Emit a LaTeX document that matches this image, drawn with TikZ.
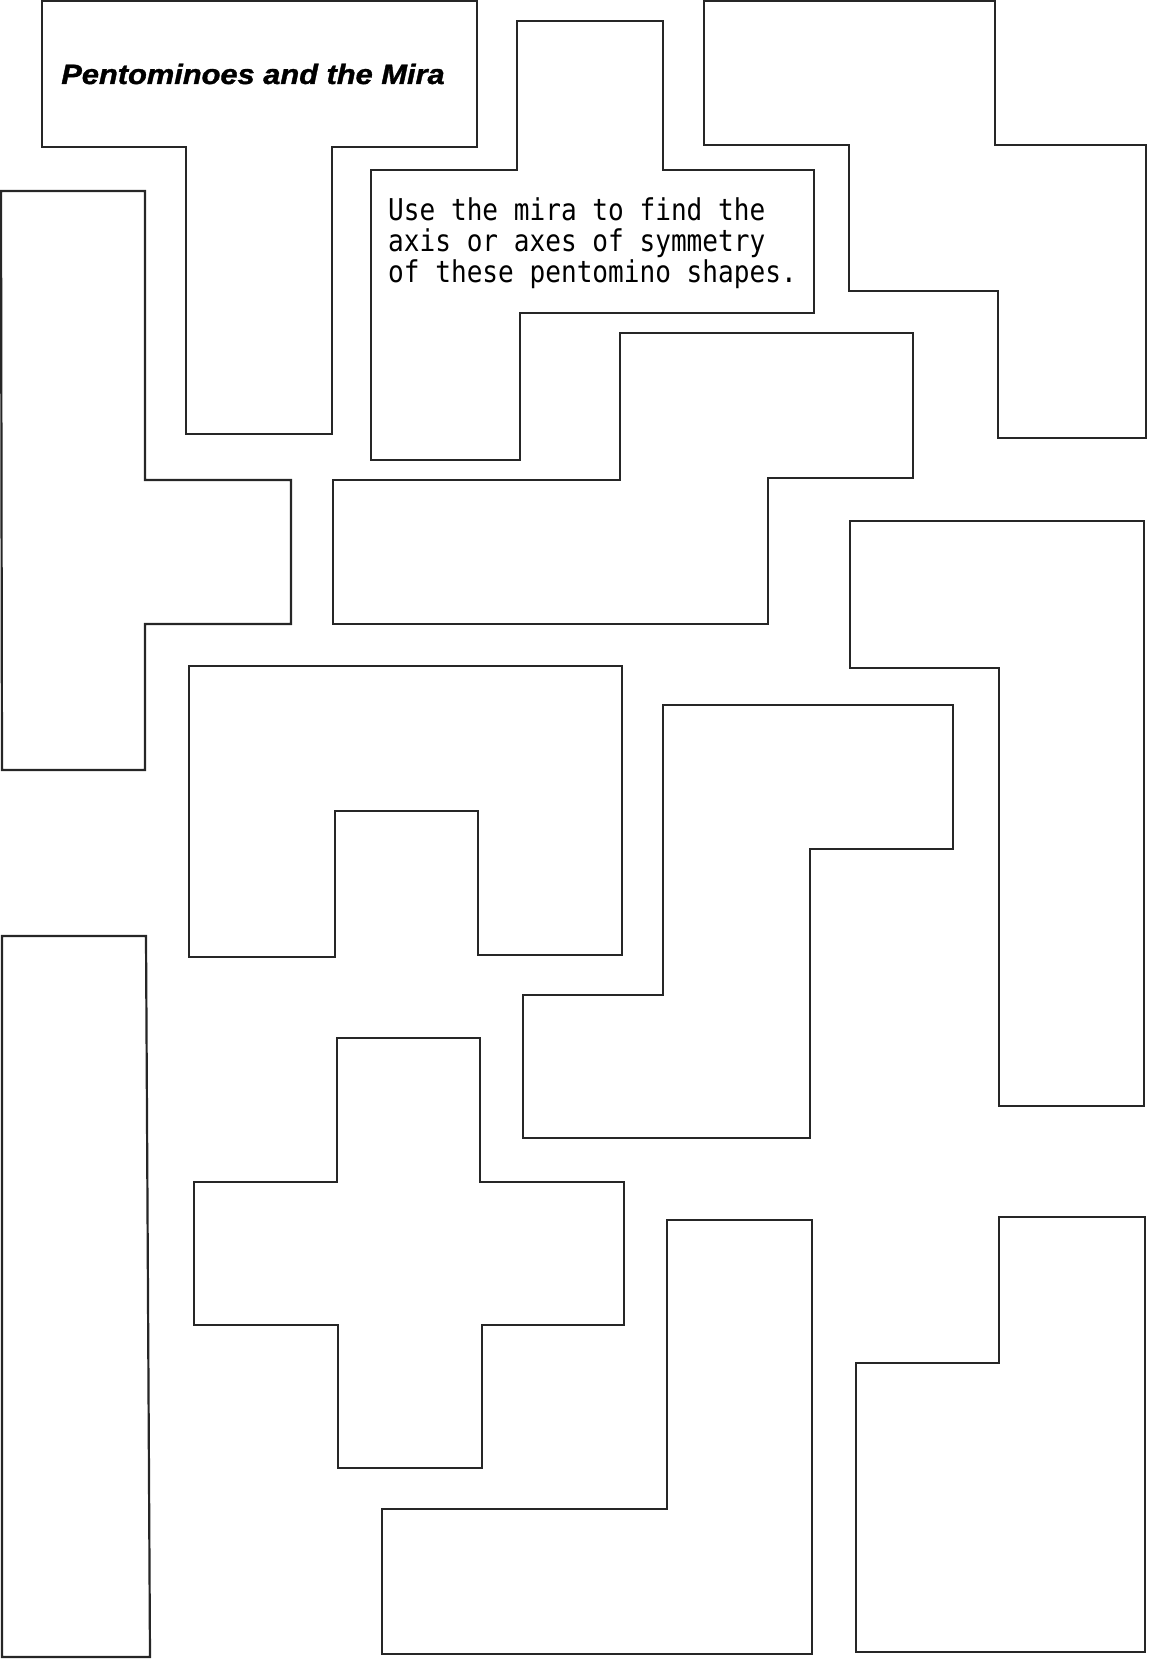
\documentclass[tikz,border=0pt]{standalone}
\usepackage{fontspec}
\usepackage{graphicx}
\newfontfamily\titlefont[FakeBold=1.2]{Liberation Sans}
\newfontfamily\monofont{DejaVu Sans Mono}
\begin{document}
\begin{tikzpicture}[x=1pt,y=-1pt,
  piece/.style={draw=black!85, line width=2.2pt, line join=miter},
  titletext/.style={inner sep=0pt, font=\titlefont\bfseries\itshape\fontsize{28}{30}\selectfont},
  monotext/.style={inner sep=0pt, anchor=base west, font=\monofont\fontsize{26.1}{30}\selectfont}]
\useasboundingbox (0,0) rectangle (1148,1661);
% T
\draw[piece] (42,1) -- (477,1) -- (477,147) -- (332,147) -- (332,434) -- (186,434) -- (186,147) -- (42,147) -- cycle;
% F
\draw[piece] (517,21) -- (663,21) -- (663,170) -- (814,170) -- (814,313) -- (520,313) -- (520,460) -- (371,460) -- (371,170) -- (517,170) -- cycle;
% W
\draw[piece] (704,1) -- (995,1) -- (995,145) -- (1146,145) -- (1146,438) -- (998,438) -- (998,291) -- (849,291) -- (849,145) -- (704,145) -- cycle;
% Y
\draw[piece] (1,191) -- (145,191) -- (145,480) -- (291,480) -- (291,624) -- (145,624) -- (145,770) -- (2,770) -- cycle;
% N
\draw[piece] (620,333) -- (913,333) -- (913,478) -- (768,478) -- (768,624) -- (333,624) -- (333,480) -- (620,480) -- cycle;
% L
\draw[piece] (850,521) -- (1144,521) -- (1144,1106) -- (999,1106) -- (999,668) -- (850,668) -- cycle;
% U
\draw[piece] (189,666) -- (622,666) -- (622,955) -- (478,955) -- (478,811) -- (335,811) -- (335,957) -- (189,957) -- cycle;
% Z
\draw[piece] (663,705) -- (953,705) -- (953,849) -- (810,849) -- (810,1138) -- (523,1138) -- (523,995) -- (663,995) -- cycle;
% I
\draw[piece] (2,936) -- (146,936) -- (150,1657) -- (2,1657) -- cycle;
% X
\draw[piece] (337,1038) -- (480,1038) -- (480,1182) -- (624,1182) -- (624,1325) -- (482,1325) -- (482,1468) -- (338,1468) -- (338,1325) -- (194,1325) -- (194,1182) -- (337,1182) -- cycle;
% V
\draw[piece] (667,1220) -- (812,1220) -- (812,1654) -- (382,1654) -- (382,1509) -- (667,1509) -- cycle;
% P
\draw[piece] (999,1217) -- (1145,1217) -- (1145,1652) -- (856,1652) -- (856,1363) -- (999,1363) -- cycle;
% texts
\node[titletext] (title) at (253,74) {\scalebox{1.1}[1]{Pentominoes and the Mira}};
\node[monotext] (line1) at (388,221) {\scalebox{1}[1.15]{Use the mira to find the}};
\node[monotext] (line2) at (388,252) {\scalebox{1}[1.15]{axis or axes of symmetry}};
\node[monotext] (line3) at (388,283) {\scalebox{1}[1.15]{of these pentomino shapes.}};
\end{tikzpicture}
\end{document}
